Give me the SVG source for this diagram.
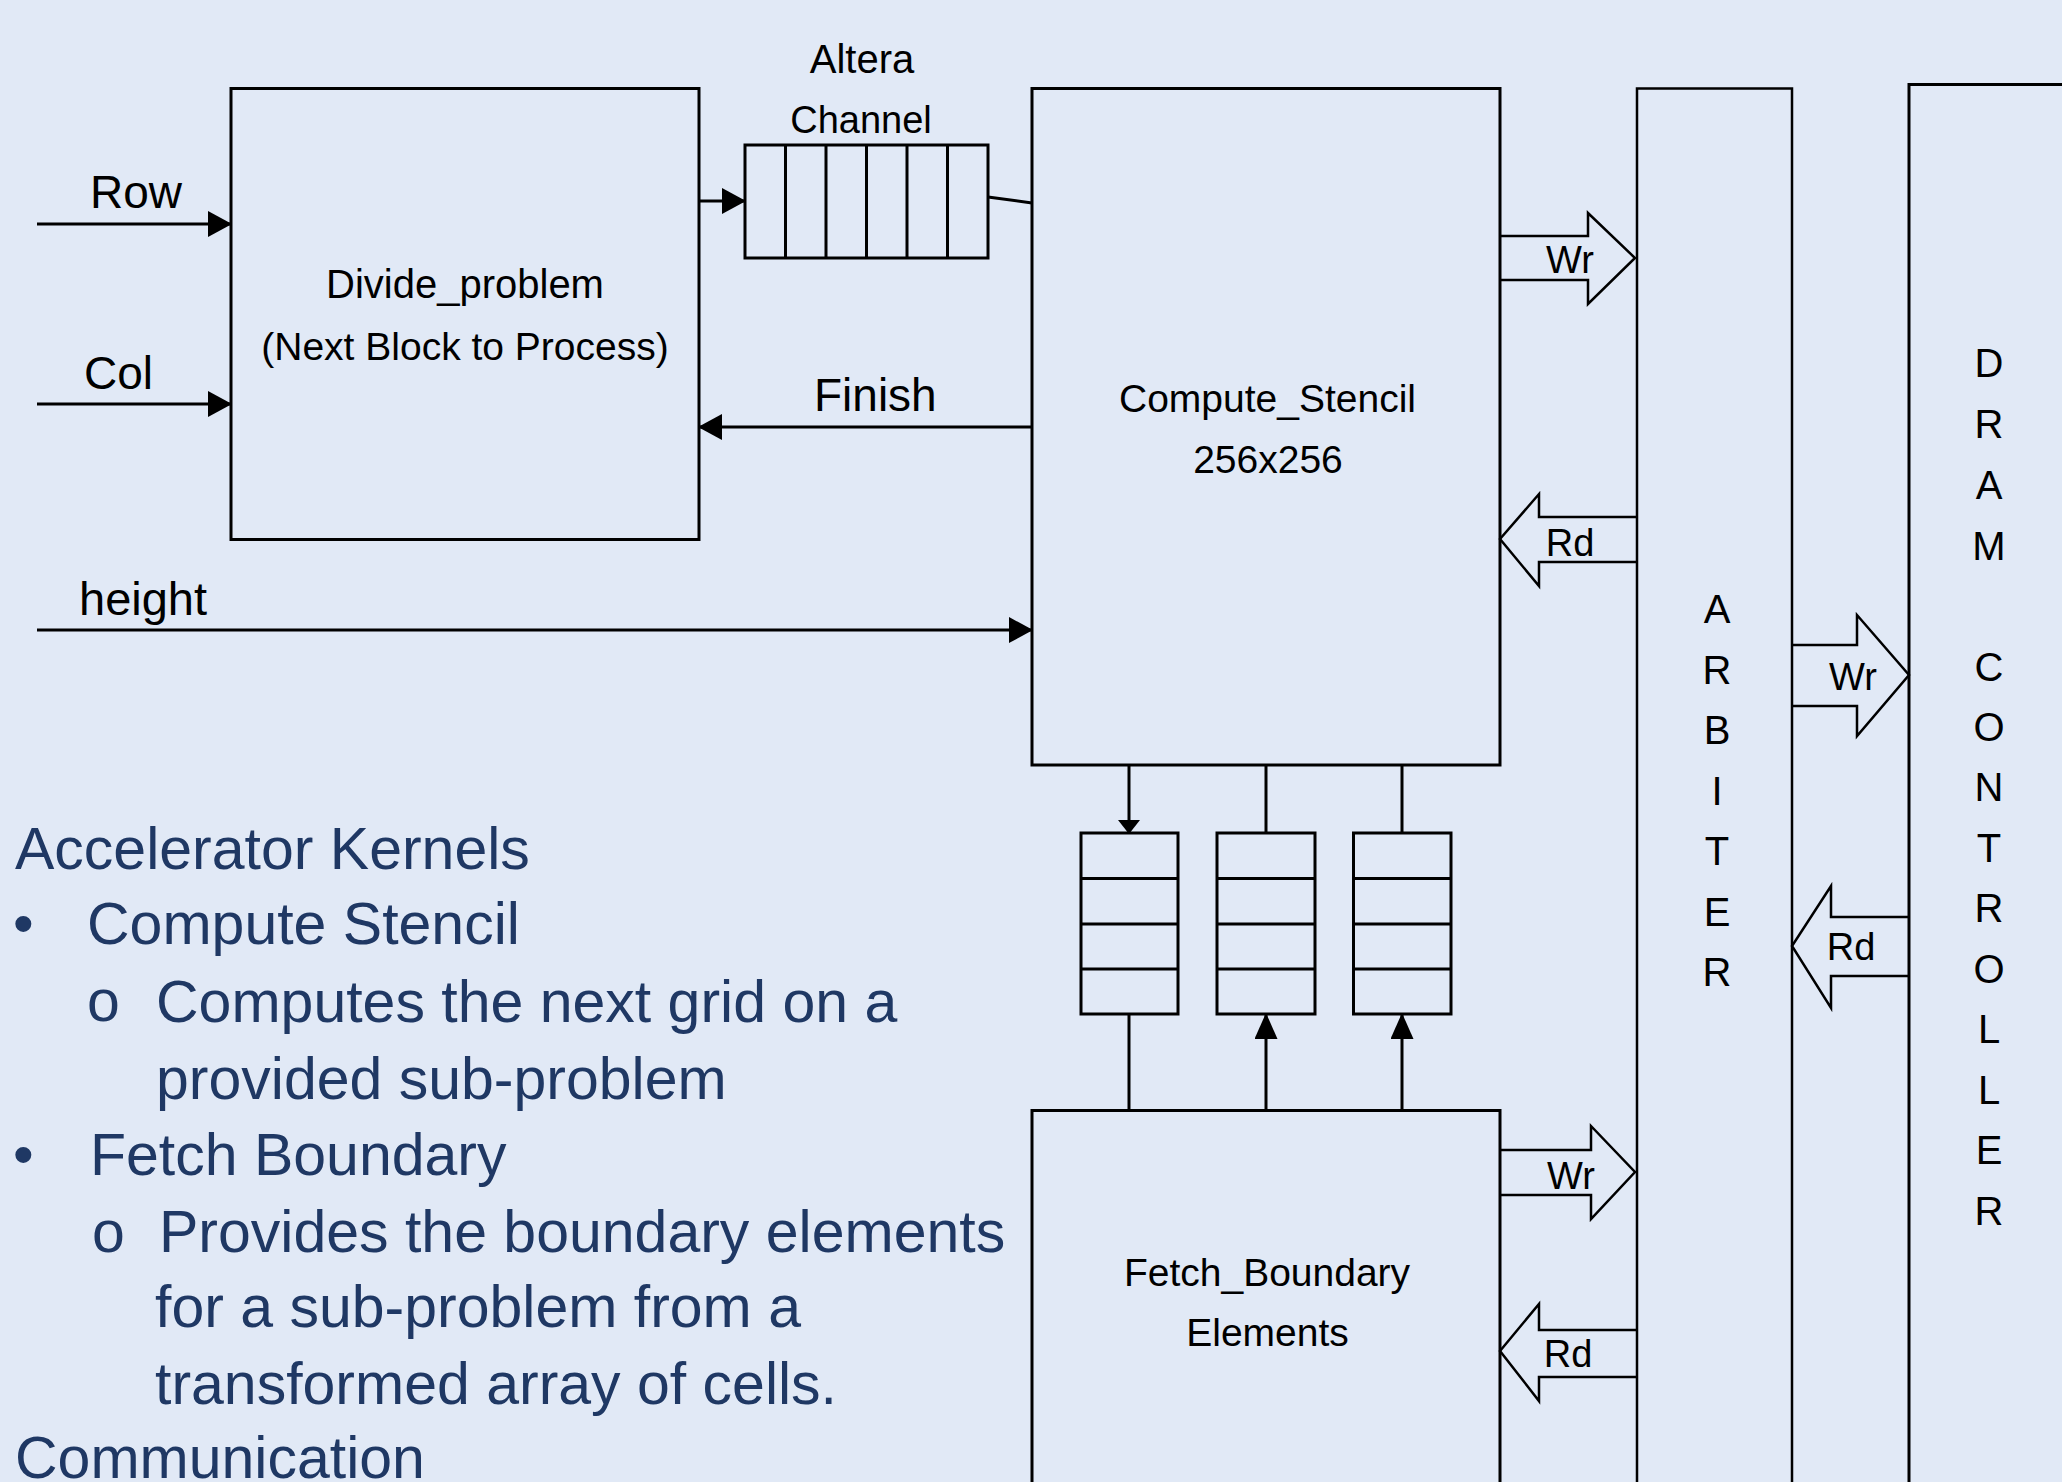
<svg xmlns="http://www.w3.org/2000/svg" width="2062" height="1482" viewBox="0 0 2062 1482">
<style>
.bx{fill:none;stroke:#000;stroke-width:3}
.ln{fill:none;stroke:#000;stroke-width:3}
.ba{fill:#E1E9F6;stroke:#000;stroke-width:2.5;stroke-linejoin:miter}
.lb{font-family:"Liberation Sans",Arial,sans-serif;fill:#000}
.c{text-anchor:middle}
.bt{font-family:"Liberation Sans",Arial,sans-serif;fill:#1F3864;font-size:59px}
</style>
<defs>
<marker id="ah" markerUnits="userSpaceOnUse" markerWidth="24" markerHeight="26" refX="23" refY="13" orient="auto" viewBox="0 0 24 26"><path d="M0,0 L24,13 L0,26 z" fill="#000"/></marker>
<marker id="ahs" markerUnits="userSpaceOnUse" markerWidth="14" markerHeight="22" refX="13" refY="11" orient="auto" viewBox="0 0 14 22"><path d="M0,0 L14,11 L0,22 z" fill="#000"/></marker>
<marker id="ahu" markerUnits="userSpaceOnUse" markerWidth="26" markerHeight="23" refX="25" refY="11.5" orient="auto" viewBox="0 0 26 23"><path d="M0,0 L26,11.5 L0,23 z" fill="#000"/></marker>
</defs>
<rect x="0" y="0" width="2062" height="1482" fill="#E1E9F6"/>

<g id="connectors">
<line class="ln" x1="37" y1="224" x2="231" y2="224" marker-end="url(#ah)"/>
<line class="ln" x1="37" y1="404" x2="231" y2="404" marker-end="url(#ah)"/>
<line class="ln" x1="37" y1="630" x2="1032" y2="630" marker-end="url(#ah)"/>
<line class="ln" x1="1032" y1="427" x2="699" y2="427" marker-end="url(#ah)"/>
<line class="ln" x1="699" y1="201" x2="745" y2="201" marker-end="url(#ah)"/>
<line class="ln" x1="988" y1="197" x2="1032" y2="203"/>
<line class="ln" x1="1129" y1="765" x2="1129" y2="833" marker-end="url(#ahs)"/>
<line class="ln" x1="1266" y1="765" x2="1266" y2="833"/>
<line class="ln" x1="1402" y1="765" x2="1402" y2="833"/>
<line class="ln" x1="1129" y1="1110" x2="1129" y2="1014"/>
<line class="ln" x1="1266" y1="1110" x2="1266" y2="1014" marker-end="url(#ahu)"/>
<line class="ln" x1="1402" y1="1110" x2="1402" y2="1014" marker-end="url(#ahu)"/>
<text class="lb" x="90" y="208" font-size="46">Row</text>
<text class="lb" x="84" y="389" font-size="46">Col</text>
<text class="lb" x="79" y="615" font-size="47">height</text>
<text class="lb" x="814" y="411" font-size="46">Finish</text>
</g>

<g id="wr-compute">
<path class="ba" d="M1500,236 L1588,236 L1588,213 L1635,258 L1588,304 L1588,280 L1500,280"/>
<text class="lb c" x="1570" y="273" font-size="38">Wr</text>
</g>
<g id="rd-compute">
<path class="ba" d="M1636,517 L1539,517 L1539,494 L1500,539 L1539,586 L1539,562 L1636,562"/>
<text class="lb c" x="1570" y="556" font-size="38">Rd</text>
</g>
<g id="wr-arbiter">
<path class="ba" d="M1792,645 L1857,645 L1857,615 L1909,675 L1857,736 L1857,706 L1792,706"/>
<text class="lb c" x="1853" y="690" font-size="38">Wr</text>
</g>
<g id="rd-dram">
<path class="ba" d="M1909,917 L1831,917 L1831,886 L1792,946 L1831,1008 L1831,976 L1909,976"/>
<text class="lb c" x="1851" y="960" font-size="38">Rd</text>
</g>
<g id="wr-fetch">
<path class="ba" d="M1500,1150 L1591,1150 L1591,1126 L1635,1172 L1591,1219 L1591,1195 L1500,1195"/>
<text class="lb c" x="1571" y="1189" font-size="38">Wr</text>
</g>
<g id="rd-fetch">
<path class="ba" d="M1636,1330 L1539,1330 L1539,1304 L1500,1351 L1539,1401 L1539,1377 L1636,1377"/>
<text class="lb c" x="1568" y="1367" font-size="38">Rd</text>
</g>

<g id="divide-problem">
<rect class="bx" x="231" y="88.5" width="468" height="451"/>
<text class="lb c" x="465" y="298" font-size="40">Divide_problem</text>
<text class="lb c" x="465" y="360" font-size="39">(Next Block to Process)</text>
</g>

<g id="altera-channel">
<rect class="bx" x="745" y="145" width="243" height="113"/>
<path class="ln" d="M785.5,145 V258 M826,145 V258 M866.5,145 V258 M907,145 V258 M947.5,145 V258"/>
<text class="lb c" x="862" y="73" font-size="40">Altera</text>
<text class="lb c" x="861" y="133" font-size="38">Channel</text>
</g>

<g id="compute-stencil">
<rect class="bx" x="1032" y="88.5" width="468" height="676.5"/>
<text class="lb c" x="1267.5" y="412" font-size="39">Compute_Stencil</text>
<text class="lb c" x="1268" y="473" font-size="39">256x256</text>
</g>

<g id="queue1">
<rect class="bx" x="1081" y="833" width="97" height="181"/>
<path class="ln" d="M1081,878.5 H1178 M1081,924 H1178 M1081,969 H1178"/>
</g>
<g id="queue2">
<rect class="bx" x="1217" y="833" width="98" height="181"/>
<path class="ln" d="M1217,878.5 H1315 M1217,924 H1315 M1217,969 H1315"/>
</g>
<g id="queue3">
<rect class="bx" x="1353.5" y="833" width="97.5" height="181"/>
<path class="ln" d="M1353.5,878.5 H1451 M1353.5,924 H1451 M1353.5,969 H1451"/>
</g>

<g id="fetch-boundary">
<rect class="bx" x="1032" y="1110.5" width="468" height="420"/>
<text class="lb c" x="1267" y="1286" font-size="39">Fetch_Boundary</text>
<text class="lb c" x="1267.5" y="1346" font-size="39">Elements</text>
</g>

<g id="arbiter">
<rect x="1637" y="88.5" width="155" height="1440" fill="none" stroke="#000" stroke-width="2.5"/>
<g class="lb c" font-size="40">
<text x="1717" y="623">A</text>
<text x="1717" y="684">R</text>
<text x="1717" y="744">B</text>
<text x="1717" y="805">I</text>
<text x="1717" y="865">T</text>
<text x="1717" y="926">E</text>
<text x="1717" y="986">R</text>
</g>
</g>

<g id="dram-controller">
<rect x="1909" y="84.5" width="200" height="1440" fill="none" stroke="#000" stroke-width="3"/>
<g class="lb c" font-size="40">
<text x="1989" y="377">D</text>
<text x="1989" y="438">R</text>
<text x="1989" y="499">A</text>
<text x="1989" y="560">M</text>
<text x="1989" y="681">C</text>
<text x="1989" y="741">O</text>
<text x="1989" y="801">N</text>
<text x="1989" y="862">T</text>
<text x="1989" y="922">R</text>
<text x="1989" y="983">O</text>
<text x="1989" y="1043">L</text>
<text x="1989" y="1104">L</text>
<text x="1989" y="1164">E</text>
<text x="1989" y="1225">R</text>
</g>
</g>

<g id="description">
<text class="bt" x="15" y="869" font-size="58">Accelerator Kernels</text>
<text class="bt" x="13" y="944">•</text>
<text class="bt" x="87" y="944">Compute Stencil</text>
<text class="bt" x="87" y="1021" font-size="46">o</text>
<text class="bt" x="156" y="1022">Computes the next grid on a</text>
<text class="bt" x="156" y="1099">provided sub-problem</text>
<text class="bt" x="13" y="1175">•</text>
<text class="bt" x="90" y="1175">Fetch Boundary</text>
<text class="bt" x="92" y="1252" font-size="46">o</text>
<text class="bt" x="159" y="1252">Provides the boundary elements</text>
<text class="bt" x="155" y="1327">for a sub-problem from a</text>
<text class="bt" x="155" y="1404">transformed array of cells.</text>
<text class="bt" x="15" y="1478" font-size="58">Communication</text>
</g>
</svg>
